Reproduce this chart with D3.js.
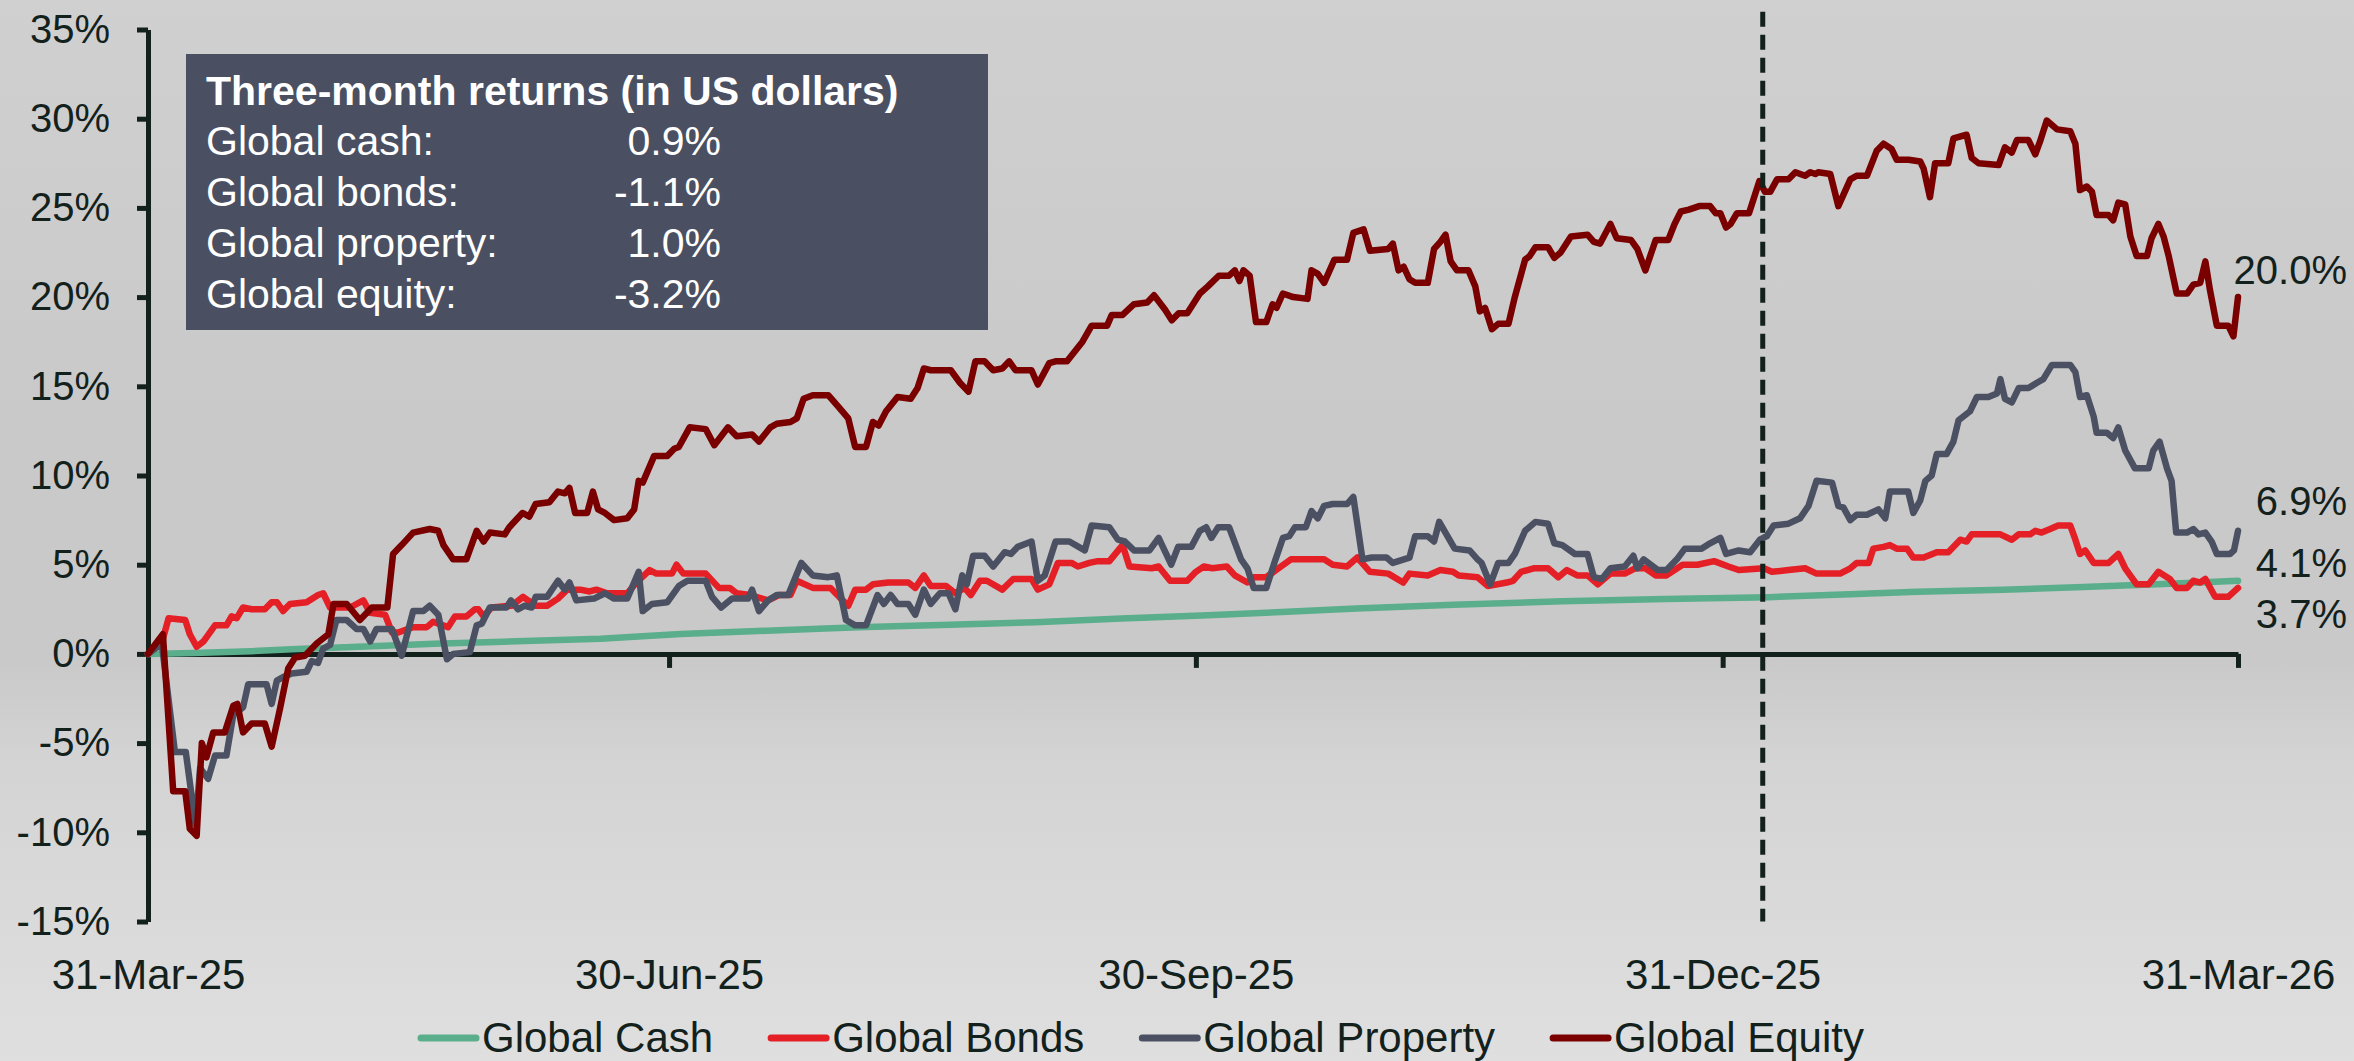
<!DOCTYPE html>
<html>
<head>
<meta charset="utf-8">
<script src="https://cdn.jsdelivr.net/npm/d3@7"></script>
<style>
  body { margin: 0; background: #d2d2d2; }
  svg text { font-family: "Liberation Sans", Arial, sans-serif; }
</style>
</head>
<body>
<div id="chart"></div>
<script>
// ---- data ----
var startDate = "2025-03-31";
var endDate = "2026-03-31";
var markerDate = "2026-01-07";
var tickDates = ["2025-03-31", "2025-06-30", "2025-09-30", "2025-12-31", "2026-03-31"];
var yTicks = [-15, -10, -5, 0, 5, 10, 15, 20, 25, 30, 35];

var seriesNames = ["Global Cash", "Global Bonds", "Global Property", "Global Equity"];
var seriesColors = ["#5aae8b", "#e41f26", "#4b5162", "#7a0000"];
var endLabels = ["4.1%", "3.7%", "6.9%", "20.0%"];

var boxTitle = "Three-month returns (in US dollars)";
var boxLabels = ["Global cash:", "Global bonds:", "Global property:", "Global equity:"];
var boxValues = ["0.9%", "-1.1%", "1.0%", "-3.2%"];

// days after 31-Mar-25, and cumulative return in %
var cashDays = [0, 8, 18, 26, 38, 50, 62, 79, 93, 108, 124, 140, 155, 170, 184, 198, 211, 228, 247, 265, 283, 296, 309, 324, 338, 352, 365];
var cashVals = [0, 0.05, 0.15, 0.28, 0.42, 0.57, 0.68, 0.85, 1.12, 1.3, 1.5, 1.63, 1.78, 1.98, 2.15, 2.35, 2.55, 2.75, 2.95, 3.08, 3.18, 3.33, 3.48, 3.6, 3.75, 3.92, 4.1];

var bondDays = [0, 2.4, 3.6, 6.5, 7.3, 8.5, 9.7, 11.7, 13.7, 14.6, 15.5, 16.6, 18.1, 20.4, 21.6, 22.5, 23.6, 24.8, 27.7, 29.7,
  30.6, 31.8, 35.3, 37.6, 38.8, 41.4, 42.6, 43.7, 46.3, 48.7, 49.8, 52.4, 53.6, 55.6, 57.1, 57.7, 58.6, 60, 63.5, 65.5,
  67.7, 69.7, 71.6, 73.2, 75.5, 77.1, 78.3, 80.2, 83.7, 85.3, 87.6, 88.8, 91.5, 92.3, 93.5, 97.4, 99.7, 101.6, 102.8, 105.1,
  108.3, 110.2, 112.2, 113.3, 116.1, 119.2, 120.7, 122.3, 123.5, 125.4, 126.6, 129.3, 132.8, 134, 135.5, 136.7, 139.4, 141, 142.6, 143.7,
  145.3, 146.5, 149.2, 151.1, 154.3, 155.4, 157.4, 158.9, 161.3, 162.4, 164.4, 165.9, 167.9, 170.2, 171.4, 175.3, 176.5, 178.5, 181.5, 183,
  184.4, 185.9, 188.4, 189.8, 192, 193.1, 195.3, 197.4, 199.6, 203.2, 205.4, 206.9, 209.4, 211.2, 213.4, 216.6, 219.2, 220.3, 223.5, 225.7,
  227.9, 228.9, 232.2, 234, 237.3, 238.4, 239.8, 242, 244.5, 246.3, 247.8, 249.6, 251.4, 253.2, 255.4, 257.9, 259.7, 261.5, 263.3, 265.2,
  268, 270.6, 273.5, 276, 277.8, 282.2, 283.6, 286.5, 289.4, 291.4, 295.5, 297.3, 298.4, 300.5, 301.3, 303.1, 304.2, 305.4, 307.2, 308.3,
  310.1, 312.4, 314.4, 316.5, 317.6, 318.5, 321.4, 323.5, 325.5, 326.7, 328.7, 329.6, 330.7, 332.2, 333.6, 335.7, 336.6, 337.4, 338.3, 339.8,
  342.4, 344.1, 345.3, 347.3, 349.4, 351.1, 353.1, 354.3, 356.1, 357.2, 358.4, 359.3, 361, 363.3, 365];
var bondVals = [0, 0.6, 2.0, 1.9, 1.1, 0.4, 0.7, 1.6, 1.6, 2.1, 2.0, 2.6, 2.5, 2.5, 2.9, 2.9, 2.4, 2.8, 2.9, 3.3,
  3.4, 2.6, 2.6, 3.0, 2.3, 2.2, 1.2, 1.2, 1.5, 1.5, 1.8, 1.5, 2.1, 2.1, 2.5, 2.5, 2.1, 2.6, 2.7, 3.2,
  2.7, 2.7, 3.1, 3.6, 3.6, 3.5, 3.6, 3.4, 3.4, 4.0, 4.7, 4.5, 4.5, 5.0, 4.5, 4.5, 3.7, 3.7, 3.4, 3.3,
  3.0, 3.3, 3.3, 4.1, 3.7, 3.7, 3.2, 2.7, 3.6, 3.6, 3.9, 4.0, 4.0, 3.7, 4.4, 3.8, 3.8, 3.4, 3.7, 3.3,
  4.1, 4.1, 3.6, 4.2, 4.2, 3.6, 3.9, 5.1, 5.1, 4.9, 5.1, 5.2, 5.2, 6.1, 4.9, 4.8, 4.9, 4.1, 4.1, 4.6,
  4.9, 4.8, 4.9, 4.4, 4.0, 4.3, 4.3, 4.8, 5.3, 5.3, 5.3, 5.0, 4.9, 5.4, 4.6, 4.5, 4.0, 4.5, 4.4, 4.7,
  4.6, 4.4, 4.3, 3.8, 4.0, 4.1, 4.6, 4.8, 4.8, 4.3, 4.7, 4.4, 4.4, 3.9, 4.5, 4.5, 4.8, 4.8, 4.4, 4.4,
  5.0, 5.0, 5.2, 4.9, 4.7, 4.8, 4.6, 4.7, 4.8, 4.5, 4.5, 4.8, 5.1, 5.1, 5.9, 6.0, 6.1, 5.9, 5.9, 5.4,
  5.4, 5.7, 5.7, 6.4, 6.3, 6.7, 6.7, 6.7, 6.4, 6.7, 6.7, 6.9, 6.8, 7.0, 7.2, 7.2, 6.4, 5.6, 5.8, 5.1,
  5.1, 5.6, 4.8, 3.9, 3.9, 4.6, 4.2, 3.7, 3.7, 4.1, 4.0, 4.2, 3.2, 3.2, 3.7];

var propDays = [0, 2.4, 4.7, 6.6, 8.3, 9.1, 10.5, 11.7, 13.7, 14.9, 16.6, 17.5, 20.7, 21.6, 22.5, 23.6, 25.1, 27.7, 28.6, 29.7,
  30.6, 31.8, 32.9, 34.7, 36.4, 37.6, 38.8, 39.9, 42.6, 44.3, 46.3, 48.1, 49.2, 50.7, 52.2, 53.3, 56.2, 57.4, 58.3, 59.7,
  62.6, 63.4, 64.6, 65.8, 67, 67.7, 69.7, 71.6, 72.8, 73.6, 74.8, 77.9, 79.8, 81.4, 83.7, 85.7, 86.4, 88, 90.7, 92.7,
  94.2, 97.4, 98.5, 100.1, 102, 104.8, 105.5, 106.7, 108.3, 109.8, 111.8, 114.1, 116.1, 118.8, 120.3, 121.9, 123.5, 125.4, 127.4, 128.5,
  129.7, 130.9, 132.8, 134, 135.5, 136.7, 138.3, 139.8, 141, 142.2, 143, 144.1, 146.1, 147.6, 149.6, 150.7, 151.9, 154.3, 155.4, 156.6,
  158.5, 160.9, 163.6, 164.8, 167.9, 169.4, 170.6, 172.2, 174.9, 176.5, 178.7, 179.9, 182.2, 183.7, 184.8, 185.7, 186.9, 188.8, 190.9, 192,
  193.1, 195.3, 196.7, 198.2, 199.3, 200.3, 202.2, 203.2, 204.3, 205.4, 206.9, 209.4, 210.5, 212.1, 213.7, 216.3, 217.4, 220.3, 221.3, 223.5,
  224.6, 225.5, 228.2, 230.8, 232.2, 232.9, 234.4, 235.8, 237.6, 238.7, 240.5, 242.3, 244.5, 245.6, 247, 249.2, 251.4, 252.5, 253.9, 255.4,
  257.9, 259.4, 260.1, 261.2, 263.7, 265.2, 267, 268.4, 271.3, 272.8, 274.6, 275.6, 277.8, 279.8, 281.5, 282.7, 283.9, 286.5, 288.5, 290,
  291.4, 294.1, 295.2, 296.1, 297.3, 298.4, 300.2, 302.2, 303.4, 304.2, 307.4, 308.3, 309.5, 310.4, 311.5, 312.4, 314.1, 315.3, 316.2, 318.2,
  319.4, 321.4, 322.9, 323.5, 324.3, 325.5, 326.7, 328.4, 329.9, 331, 332.5, 335.7, 336.6, 337.4, 338.6, 339.8, 340.3, 342.1, 343.2, 344.1,
  345.3, 347, 349.4, 350.2, 351.3, 352.6, 353.4, 354.2, 356.1, 357.2, 358.1, 359.3, 360.4, 361.3, 363.6, 364.3, 365];
var propVals = [0, 0.6, -5.5, -5.5, -9.6, -6.4, -7.0, -5.7, -5.7, -3.4, -3.0, -1.7, -1.7, -2.8, -1.5, -1.3, -1.1, -1.0, -0.4, -0.5,
  0.3, 0.5, 1.9, 1.9, 1.4, 1.4, 0.7, 1.4, 1.4, -0.1, 2.4, 2.4, 2.7, 2.2, -0.3, 0.0, 0.1, 1.6, 1.7, 2.6,
  2.6, 3.0, 2.5, 2.7, 2.6, 3.2, 3.2, 4.1, 3.6, 4.0, 3.0, 3.1, 3.4, 3.1, 3.1, 4.6, 2.4, 2.8, 2.9, 3.8,
  4.1, 4.1, 3.2, 2.6, 3.1, 3.1, 3.6, 2.4, 3.0, 3.3, 3.3, 5.1, 4.4, 4.3, 4.4, 1.9, 1.6, 1.6, 3.3, 2.8,
  3.3, 2.8, 2.8, 2.2, 3.6, 2.8, 3.4, 3.4, 2.5, 4.4, 3.9, 5.5, 5.5, 4.9, 5.7, 5.6, 6.0, 6.3, 4.1, 4.4,
  6.3, 6.3, 5.8, 7.2, 7.1, 6.4, 6.3, 5.8, 5.8, 6.5, 5.0, 6.0, 6.0, 6.9, 7.1, 6.5, 7.1, 7.1, 5.3, 4.8,
  3.7, 3.7, 5.1, 6.5, 6.6, 7.1, 7.1, 8.0, 7.6, 8.3, 8.4, 8.4, 8.8, 5.3, 5.4, 5.4, 5.1, 5.4, 6.6, 6.6,
  6.3, 7.4, 5.9, 5.8, 5.3, 5.1, 3.9, 5.1, 5.1, 5.6, 6.9, 7.4, 7.3, 6.2, 6.1, 5.6, 5.6, 4.3, 4.2, 4.8,
  4.9, 5.5, 4.8, 5.3, 4.7, 4.7, 5.3, 5.9, 5.9, 6.2, 6.5, 5.6, 5.8, 5.7, 6.4, 6.6, 7.2, 7.3, 7.6, 8.3,
  9.7, 9.6, 8.3, 8.2, 7.5, 7.8, 7.8, 8.1, 7.6, 9.1, 9.1, 7.9, 8.6, 9.7, 10.0, 11.2, 11.2, 11.9, 13.1, 13.6,
  14.4, 14.4, 14.6, 15.4, 14.3, 14.1, 14.9, 14.9, 15.2, 15.4, 16.2, 16.2, 15.8, 14.4, 14.5, 13.3, 12.4, 12.4, 12.1, 12.7,
  11.4, 10.4, 10.4, 11.4, 11.9, 10.4, 9.7, 6.8, 6.8, 7.0, 6.7, 6.8, 6.3, 5.6, 5.6, 5.8, 6.9];

var eqDays = [0, 2.6, 4.4, 6.5, 7.3, 8.5, 9.4, 10.2, 11.4, 13.4, 14.9, 15.6, 16.6, 18.1, 20.4, 21.6, 23.1, 24.5, 25.7, 27.4,
  29.5, 31.5, 32.4, 34.7, 37, 39.1, 41.8, 42.8, 44.3, 46.3, 49.2, 50.7, 51.6, 53.3, 55.6, 57.4, 58.6, 59.7, 62.3, 63.1,
  65.4, 66.6, 67.7, 70.1, 71.6, 72.8, 73.6, 74.6, 76.7, 77.7, 78.6, 79.8, 81.4, 83.7, 84.9, 85.7, 86.4, 88.4, 90.7, 91.9,
  92.7, 94.6, 97.4, 98.9, 101.3, 102.8, 105.5, 106.7, 108.7, 109.8, 112.2, 113.3, 114.5, 116.1, 118.8, 120.7, 122.3, 123.5, 125.4, 126.6,
  127.6, 128.9, 130.9, 133.2, 134.4, 135.5, 136.7, 140.2, 141.8, 143.3, 144.5, 146.1, 147.6, 149.2, 150.4, 151.5, 154.3, 155.4, 157.4, 158.5,
  160.5, 163.2, 164.8, 167.5, 168.3, 170.2, 172.2, 174.5, 175.7, 177.6, 178.8, 180, 181.5, 183.7, 185.1, 187, 188.8, 189.8, 190.6, 191.3,
  192.4, 193.5, 195.3, 196.4, 197.1, 198.2, 200, 202.5, 203.2, 204.3, 205.4, 207.2, 209.4, 210.5, 212.3, 213.4, 216.6, 217.4, 218.4, 219.3,
  220.3, 221.3, 223.5, 224.6, 225.7, 226.6, 227.5, 228.6, 230.6, 231.8, 232.6, 233.5, 234.7, 235.8, 237.6, 238.7, 240.5, 241.3, 242.3, 244.5,
  245.6, 246.7, 248.5, 251.4, 252.5, 253.6, 255.4, 256.5, 259, 260.1, 261.5, 263.3, 265.5, 266.6, 267.7, 269.1, 270.9, 272.8, 273.8, 274.6,
  275.6, 276.4, 277.5, 279.6, 281.4, 282.4, 283.3, 284.5, 286.5, 287.7, 289.4, 290.3, 291.2, 291.7, 293.8, 295.2, 297.3, 298.4, 300.2, 301.9,
  303.1, 304.5, 305.4, 307.5, 309.5, 310.1, 311.2, 312.1, 314.4, 315.3, 317.6, 318.5, 319.7, 323.2, 324.3, 325.5, 326.4, 328.4, 329.6, 330.4,
  331.6, 333.4, 335.7, 336.6, 337.4, 338.6, 339.5, 340.3, 342.4, 343.2, 344.1, 345.3, 346.2, 347.3, 349.1, 349.9, 351.1, 352, 352.9, 354.3,
  356.1, 357.2, 358.4, 359.3, 360.1, 361.3, 363.3, 364.2, 365];
var eqVals = [0, 1.1, -7.7, -7.7, -9.8, -10.2, -5.0, -5.8, -4.4, -4.4, -2.9, -2.8, -4.4, -3.9, -3.9, -5.2, -3.0, -0.8, -0.2, -0.1,
  0.6, 1.1, 2.8, 2.8, 1.9, 2.6, 2.6, 5.6, 6.1, 6.8, 7.0, 6.9, 6.1, 5.3, 5.3, 6.9, 6.3, 6.8, 6.7, 7.1,
  7.9, 7.7, 8.4, 8.5, 9.1, 9.0, 9.3, 7.9, 7.9, 9.1, 8.1, 7.9, 7.5, 7.6, 8.1, 9.7, 9.6, 11.1, 11.1, 11.5,
  11.6, 12.7, 12.6, 11.7, 12.7, 12.2, 12.3, 11.9, 12.7, 12.9, 13.0, 13.2, 14.3, 14.5, 14.5, 13.8, 13.2, 11.6, 11.6, 13.0,
  12.8, 13.6, 14.4, 14.3, 14.9, 16.0, 15.9, 15.9, 15.2, 14.7, 16.4, 16.4, 15.9, 16.0, 16.4, 15.9, 15.9, 15.1, 16.3, 16.4,
  16.4, 17.5, 18.4, 18.4, 19.0, 19.0, 19.6, 19.7, 20.1, 19.3, 18.7, 19.1, 19.1, 20.2, 20.6, 21.2, 21.2, 21.5, 20.9, 21.5,
  21.2, 18.6, 18.6, 19.6, 19.4, 20.2, 20.0, 19.9, 21.5, 21.3, 20.8, 22.1, 22.1, 23.6, 23.8, 22.6, 22.7, 23.0, 21.5, 21.7,
  21.0, 20.8, 20.8, 22.7, 23.1, 23.5, 22.0, 21.5, 21.5, 20.6, 19.2, 19.4, 18.2, 18.5, 18.5, 20.0, 22.1, 22.3, 22.8, 22.8,
  22.2, 22.5, 23.4, 23.5, 23.1, 23.0, 24.1, 23.3, 23.2, 22.7, 21.5, 23.2, 23.2, 24.1, 24.8, 24.9, 25.1, 25.1, 24.7, 24.7,
  23.9, 24.1, 24.7, 24.7, 26.5, 25.9, 25.9, 26.6, 26.6, 27.0, 26.8, 27.0, 26.9, 27.0, 26.9, 25.1, 26.6, 26.8, 26.8, 28.2,
  28.6, 28.3, 27.7, 27.7, 27.6, 27.2, 25.6, 27.5, 27.5, 28.9, 29.1, 27.8, 27.5, 27.4, 28.4, 28.1, 28.8, 28.8, 28.0, 28.7,
  29.9, 29.4, 29.3, 28.6, 26.0, 26.2, 25.9, 24.6, 24.6, 24.3, 25.3, 25.2, 23.4, 22.3, 22.3, 23.3, 24.1, 23.4, 22.3, 20.2,
  20.2, 20.7, 20.8, 22.0, 20.4, 18.4, 18.4, 17.8, 20.0];

var seriesDays = [cashDays, bondDays, propDays, eqDays];
var seriesVals = [cashVals, bondVals, propVals, eqVals];

// ---- chart ----
var W = 2354, H = 1061;
var margin = { top: 29.5, right: 116, bottom: 139.5, left: 148 };
var width = W - margin.left - margin.right,
  height = H - margin.top - margin.bottom;
var ink = "#13211c";

var parseDate = d3.utcParse("%Y-%m-%d");
var start = parseDate(startDate);
function dayToDate(d) {
  return new Date(start.getTime() + d * 864e5);
}

var svg = d3.select("#chart").append("svg")
  .attr("width", W)
  .attr("height", H);

// soft grey backdrop
var grad = svg.append("defs").append("linearGradient")
  .attr("id", "bg").attr("x1", 0).attr("y1", 0).attr("x2", 0).attr("y2", 1);
grad.append("stop").attr("offset", "0").attr("stop-color", "#d0d0d0");
grad.append("stop").attr("offset", "0.4").attr("stop-color", "#c9c9c9");
grad.append("stop").attr("offset", "0.62").attr("stop-color", "#c9c9c9");
grad.append("stop").attr("offset", "0.72").attr("stop-color", "#d4d4d4");
grad.append("stop").attr("offset", "1").attr("stop-color", "#dfdfdf");
svg.append("rect").attr("width", W).attr("height", H).attr("fill", "url(#bg)");

var g = svg.append("g")
  .attr("transform", "translate(" + margin.left + "," + margin.top + ")");

var x = d3.scaleUtc()
  .domain([parseDate(startDate), parseDate(endDate)])
  .range([0, width]);

var y = d3.scaleLinear()
  .domain([-15, 35])
  .range([height, 0]);

// y axis
var yAxis = d3.axisLeft(y)
  .tickValues(yTicks)
  .tickSize(11)
  .tickSizeOuter(0)
  .tickPadding(27)
  .tickFormat(function(d) { return d + "%"; });

var gy = g.append("g").attr("class", "y axis").call(yAxis);
gy.select(".domain").attr("stroke", ink).attr("stroke-width", 5);
gy.selectAll(".tick line").attr("stroke", ink).attr("stroke-width", 5);
gy.selectAll(".tick text").attr("fill", ink).style("font-size", "40px");

// x axis sits on the zero line, labels drop to the bottom
var xAxis = d3.axisBottom(x)
  .tickValues(tickDates.map(parseDate))
  .tickSize(14)
  .tickSizeOuter(0)
  .tickPadding(291)
  .tickFormat(d3.utcFormat("%d-%b-%y"));

var gx = g.append("g")
  .attr("class", "x axis")
  .attr("transform", "translate(0," + y(0) + ")")
  .call(xAxis);
gx.select(".domain").attr("stroke", ink).attr("stroke-width", 5);
gx.selectAll(".tick line").attr("stroke", ink).attr("stroke-width", 5);
gx.selectAll(".tick text").attr("fill", ink).style("font-size", "42px");

// lines
var line = d3.line()
  .x(function(d) { return x(d.date); })
  .y(function(d) { return y(d.value); });

var series = seriesNames.map(function(name, i) {
  return {
    name: name,
    color: seriesColors[i],
    points: seriesDays[i].map(function(d, j) {
      return { date: dayToDate(d), value: seriesVals[i][j] };
    })
  };
});

g.selectAll(".series")
  .data(series)
  .enter().append("path")
  .attr("class", "series")
  .attr("d", function(d) { return line(d.points); })
  .attr("fill", "none")
  .attr("stroke", function(d) { return d.color; })
  .attr("stroke-width", 6.5)
  .attr("stroke-linejoin", "round")
  .attr("stroke-linecap", "round");

// dashed marker at the start of the last quarter window
g.append("line")
  .attr("x1", x(parseDate(markerDate)))
  .attr("x2", x(parseDate(markerDate)))
  .attr("y1", y(36))
  .attr("y2", y(-15))
  .attr("stroke", ink)
  .attr("stroke-width", 5)
  .attr("stroke-dasharray", "15,8");

// end-of-line value labels (nudged apart so they don't collide)
var labelNudge = [-18, 26, -30, -27];
series.forEach(function(s, i) {
  var last = s.points[s.points.length - 1];
  g.append("text")
    .attr("x", x(last.date) + 109)
    .attr("y", y(last.value) + labelNudge[i])
    .attr("text-anchor", "end")
    .attr("dominant-baseline", "central")
    .attr("fill", ink)
    .style("font-size", "40px")
    .text(endLabels[i]);
});

// three-month returns box
var box = svg.append("g").attr("transform", "translate(186,54)");
box.append("rect")
  .attr("width", 802)
  .attr("height", 276)
  .attr("fill", "#4a5061");
box.append("text")
  .attr("x", 20)
  .attr("y", 51)
  .attr("fill", "#ffffff")
  .style("font-size", "41px")
  .style("font-weight", "bold")
  .text(boxTitle);
boxLabels.forEach(function(lab, i) {
  box.append("text")
    .attr("x", 20)
    .attr("y", 101 + i * 51)
    .attr("fill", "#ffffff")
    .style("font-size", "41px")
    .text(lab);
  box.append("text")
    .attr("x", 535)
    .attr("y", 101 + i * 51)
    .attr("text-anchor", "end")
    .attr("fill", "#ffffff")
    .style("font-size", "41px")
    .text(boxValues[i]);
});

// legend
var legend = svg.append("g").attr("transform", "translate(421,1052)");
var lx = 0;
series.forEach(function(s) {
  legend.append("line")
    .attr("x1", lx).attr("x2", lx + 55)
    .attr("y1", -14).attr("y2", -14)
    .attr("stroke", s.color)
    .attr("stroke-width", 7)
    .attr("stroke-linecap", "round");
  var t = legend.append("text")
    .attr("x", lx + 61)
    .attr("y", 0)
    .attr("fill", ink)
    .style("font-size", "42px")
    .text(s.name);
  lx = lx + 61 + t.node().getComputedTextLength() + 58;
});
</script>
</body>
</html>
